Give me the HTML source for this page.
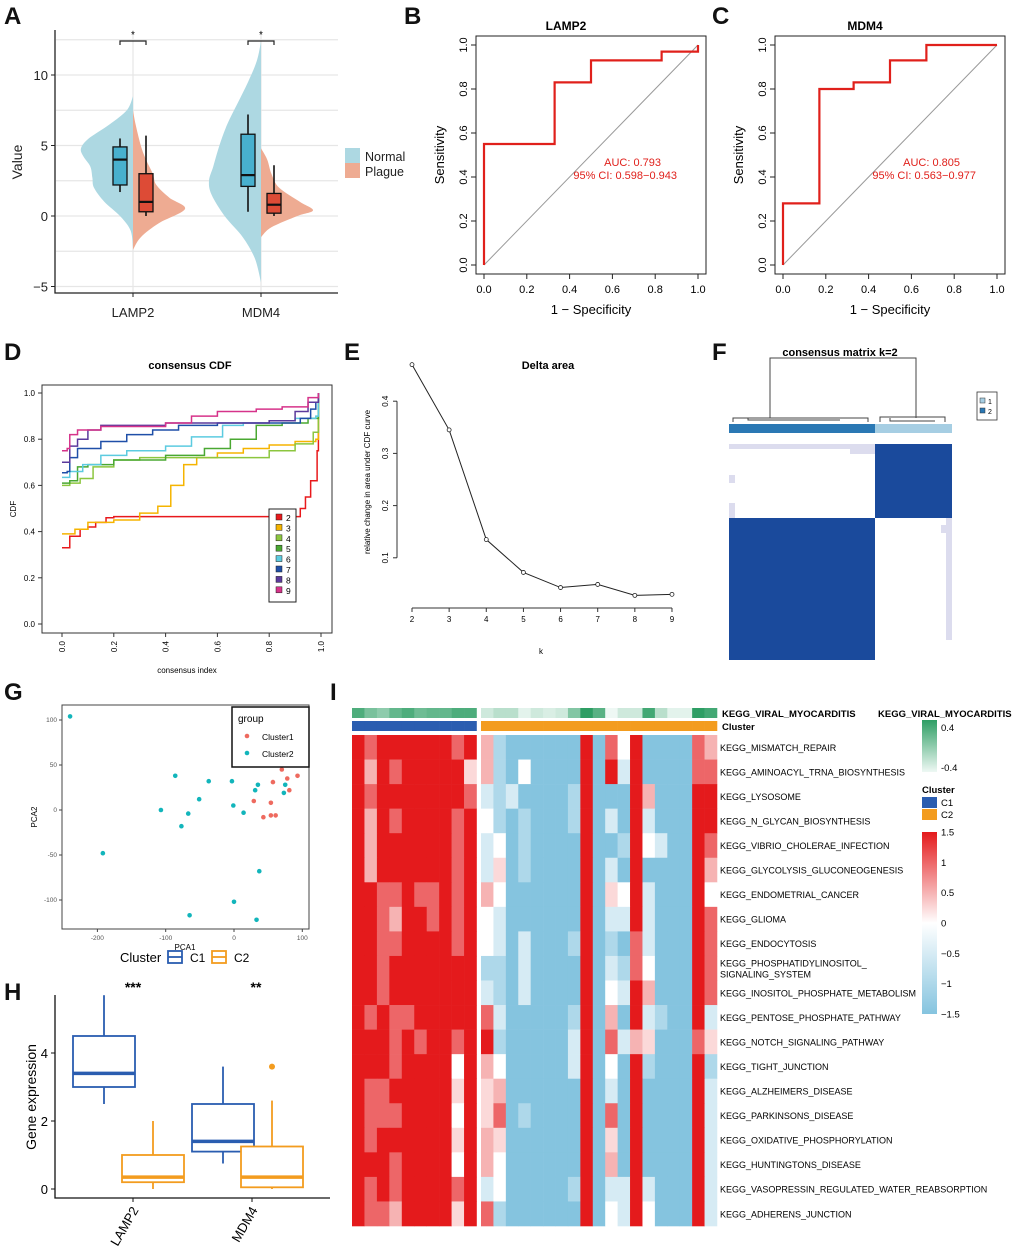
<!DOCTYPE html>
<html><head><meta charset="utf-8"><style>
body{margin:0;background:#fff}
svg text{font-family:"Liberation Sans",Arial,sans-serif}
</style></head><body>
<svg id="fig" width="1020" height="1246" viewBox="0 0 1020 1246" xmlns="http://www.w3.org/2000/svg">
<rect width="1020" height="1246" fill="#fff"/>
<g font-weight="bold" font-size="24" fill="#111">
<text x="4" y="24">A</text>
<text x="404" y="24">B</text>
<text x="712" y="24">C</text>
<text x="4" y="360">D</text>
<text x="344" y="360">E</text>
<text x="712" y="360">F</text>
<text x="4" y="700">G</text>
<text x="330" y="700">I</text>
<text x="4" y="1000">H</text>
</g>
<g id="gA"></g>
<g id="gB"></g>
<g id="gC"></g>
<g id="gD"></g>
<g id="gE"></g>
<g id="gF"></g>
<g id="gG"></g>
<g id="gH"></g>
<g id="gI"></g>
</svg>
<script>
// ---------- DATA ----------
const violinGenes = ['LAMP2','MDM4'];
const violinNormal = [
 [[-2.2,0],[-1,0.05],[0,0.25],[1,0.55],[2,0.75],[2.7,0.78],[3.5,0.82],[4.2,0.95],[4.8,1.0],[5.5,0.85],[6.5,0.45],[7.5,0.12],[8.5,0]],
 [[-4.7,0],[-3,0.12],[-1.5,0.35],[0,0.7],[1.5,0.95],[2.5,1.0],[3.5,0.92],[5,0.8],[6.5,0.65],[8,0.45],[9.5,0.25],[11,0.08],[12.4,0]]];
const violinPlague = [
 [[-2.4,0],[-1.5,0.15],[-0.5,0.5],[0.5,1.0],[1.3,0.7],[2.2,0.45],[3,0.38],[4,0.25],[5,0.15],[6.5,0.05],[7.5,0]],
 [[-1.5,0],[-0.8,0.2],[0,0.7],[0.4,1],[1,0.75],[2,0.35],[3,0.2],[4,0.12],[4.8,0]]];
const boxNormal = [[1.7,2.2,4.0,4.9,5.5],[0.3,2.1,2.9,5.8,7.2]];
const boxPlague = [[0,0.3,1.0,3.0,5.7],[0,0.2,0.8,1.6,3.6]];
const yTicksA = [-5,0,5,10];

const rocLamp2 = [[0,0],[0,0.55],[0.33,0.55],[0.33,0.83],[0.5,0.83],[0.5,0.93],[0.83,0.93],[0.83,0.97],[1,0.97],[1,1]];
const rocMdm4 = [[0,0],[0,0.28],[0.17,0.28],[0.17,0.8],[0.33,0.8],[0.33,0.83],[0.5,0.83],[0.5,0.93],[0.67,0.93],[0.67,1],[1,1]];
const rocTicks = [0,0.2,0.4,0.6,0.8,1.0];

const cdfK = [2,3,4,5,6,7,8,9];
const cdfColors = ['#e8191c','#f5b400','#8cc63f','#4aa832','#5ccbe0','#1f4fa8','#5b3a9c','#d6338a'];
const cdfCurves = [
 [[0,0.33],[0.02,0.33],[0.03,0.38],[0.05,0.38],[0.07,0.41],[0.1,0.42],[0.13,0.44],[0.17,0.46],[0.2,0.465],[0.9,0.465],[0.92,0.5],[0.94,0.55],[0.96,0.62],[0.98,0.62],[0.985,0.75],[0.99,1.0]],
 [[0,0.39],[0.05,0.41],[0.1,0.44],[0.2,0.45],[0.3,0.48],[0.37,0.51],[0.42,0.6],[0.47,0.69],[0.52,0.72],[0.6,0.74],[0.7,0.76],[0.8,0.775],[0.9,0.79],[0.98,0.8],[0.99,1.0]],
 [[0,0.6],[0.03,0.61],[0.07,0.63],[0.12,0.68],[0.2,0.71],[0.3,0.72],[0.7,0.72],[0.8,0.75],[0.9,0.78],[0.97,0.83],[0.99,1.0]],
 [[0,0.61],[0.03,0.62],[0.06,0.68],[0.1,0.69],[0.2,0.71],[0.4,0.73],[0.55,0.76],[0.65,0.8],[0.75,0.86],[0.85,0.87],[0.95,0.89],[0.99,1.0]],
 [[0,0.635],[0.03,0.66],[0.08,0.69],[0.15,0.73],[0.25,0.75],[0.4,0.77],[0.5,0.81],[0.62,0.86],[0.7,0.87],[0.8,0.88],[0.9,0.89],[0.98,0.9],[0.99,1.0]],
 [[0,0.655],[0.02,0.66],[0.03,0.72],[0.06,0.76],[0.15,0.79],[0.25,0.82],[0.35,0.84],[0.45,0.86],[0.6,0.87],[0.85,0.87],[0.92,0.89],[0.96,0.93],[0.98,0.96],[0.99,1.0]],
 [[0,0.70],[0.02,0.70],[0.03,0.77],[0.06,0.8],[0.1,0.84],[0.15,0.86],[0.4,0.87],[0.6,0.87],[0.8,0.88],[0.9,0.92],[0.95,0.96],[0.99,1.0]],
 [[0,0.75],[0.02,0.76],[0.03,0.82],[0.06,0.84],[0.15,0.855],[0.4,0.87],[0.5,0.9],[0.6,0.92],[0.75,0.93],[0.85,0.94],[0.95,0.98],[0.99,1.0]]];
const cdfTicks = [0,0.2,0.4,0.6,0.8,1.0];

const deltaK = [2,3,4,5,6,7,8,9];
const deltaVal = [0.47,0.345,0.135,0.072,0.043,0.049,0.028,0.03];
const deltaYTicks = [0.1,0.2,0.3,0.4];

const pcaC1x = [70,78,93,57,81,29,54,43,54,61];
const pcaC1y = [45,35,38,31,22,10,8,-8,-6,-6];
const pcaC2x = [-240,-192,-107,-86,-77,-67,-51,-37,-3,-1,14,31,35,37,0,-65,33,73,75];
const pcaC2y = [104,-48,0,38,-18,-4,12,32,32,5,-3,22,28,-68,-102,-117,-122,19,28];
const pcaXTicks = [-200,-100,0,100];
const pcaYTicks = [-100,-50,0,50,100];

const hGenes = ['LAMP2','MDM4'];
const hC1 = [[2.5,3.0,3.4,4.5,5.7],[0.75,1.1,1.4,2.5,3.6]];
const hC2 = [[0,0.2,0.35,1.0,2.0],[0,0.05,0.35,1.25,2.6]];
const hC2Outliers = [[],[3.6]];
const hYTicks = [0,2,4];

const heatRows = ['KEGG_MISMATCH_REPAIR','KEGG_AMINOACYL_TRNA_BIOSYNTHESIS','KEGG_LYSOSOME','KEGG_N_GLYCAN_BIOSYNTHESIS','KEGG_VIBRIO_CHOLERAE_INFECTION','KEGG_GLYCOLYSIS_GLUCONEOGENESIS','KEGG_ENDOMETRIAL_CANCER','KEGG_GLIOMA','KEGG_ENDOCYTOSIS','KEGG_PHOSPHATIDYLINOSITOL_|SIGNALING_SYSTEM','KEGG_INOSITOL_PHOSPHATE_METABOLISM','KEGG_PENTOSE_PHOSPHATE_PATHWAY','KEGG_NOTCH_SIGNALING_PATHWAY','KEGG_TIGHT_JUNCTION','KEGG_ALZHEIMERS_DISEASE','KEGG_PARKINSONS_DISEASE','KEGG_OXIDATIVE_PHOSPHORYLATION','KEGG_HUNTINGTONS_DISEASE','KEGG_VASOPRESSIN_REGULATED_WATER_REABSORPTION','KEGG_ADHERENS_JUNCTION'];
const heatCodes = [
'RrRRRRRRrR'+'pmBBBBBBRBrwRBBBBrp',
'RpRrRRRRRq'+'pmBwBBBBRBRlRBBBBrr',
'RrRRRRRRRr'+'lmlBBBBmRBBBRpBBBRR',
'RpRrRRRRrR'+'wmBmBBBmRBlBRlBBBRR',
'RpRRRRRRrR'+'lwBmBBBBRBBmRwlBBRr',
'RpRRRRRRrR'+'lqBmBBBBRBlBRBBBBRp',
'RRrrRrrRrR'+'pwBBBBBBRBqwRlBBBRw',
'RRrpRRrRrR'+'wlBBBBBBRBllRlBBBRr',
'RRrrRRRRrR'+'wlBlBBBmRBmBrlBBBRr',
'RRrRRRRRRR'+'mmBlBBBBRBlmrwBBBRr',
'RRrRRRRRRR'+'lmBlBBBBRBwlRpBBBRr',
'RrRrrRRRRR'+'rlBBBBBmRBpBRlmBBRl',
'RRRrRrRRrR'+'RmBBBBBlRBrlpqBBBrq',
'RRRrRRRRwR'+'pwBBBBBlRBwBRmBBBRm',
'RrrRRRRRqR'+'qpBBBBBBRBlBRBBBBRl',
'RrrrRRRRwR'+'qrBmBBBBRBrBRBBBBRl',
'RrRRRRRRqR'+'pqBBBBBBRBqBRBBBBRl',
'RRRrRRRRwR'+'pwBBBBBBRBpBRBBBBRl',
'RrRrRRRRrR'+'lwBBBBBmRBllRlBBBRl',
'RrrpRRRRqR'+'rmBBBBBBRBwlRwBBBRl'];
const codeValue = {R:1.5,r:1.0,p:0.5,q:0.25,w:0,l:-0.5,m:-1.0,B:-1.5};
const viralAnno = [0.3,0.1,0.0,0.2,0.3,0.15,0.2,0.2,0.3,0.3,-0.3,-0.2,-0.2,-0.4,-0.3,-0.35,-0.3,0.05,0.45,0.25,-0.45,-0.3,-0.3,0.35,-0.2,-0.4,-0.4,0.45,0.35];
const clusterAnno = ['C1','C1','C1','C1','C1','C1','C1','C1','C1','C1','C2','C2','C2','C2','C2','C2','C2','C2','C2','C2','C2','C2','C2','C2','C2','C2','C2','C2','C2'];
const heatLegendTicks = [1.5,1,0.5,0,-0.5,-1,-1.5];

// ---------- HELPERS ----------
const NS='http://www.w3.org/2000/svg';
function el(tag,attrs,parent,txt){const e=document.createElementNS(NS,tag);for(const k in attrs)e.setAttribute(k,attrs[k]);if(txt!==undefined)e.textContent=txt;parent.appendChild(e);return e;}
const $=id=>document.getElementById(id);
function mix(a,b,t){const pa=[1,3,5].map(i=>parseInt(a.substr(i,2),16)),pb=[1,3,5].map(i=>parseInt(b.substr(i,2),16));return 'rgb('+pa.map((v,i)=>Math.round(v+(pb[i]-v)*t)).join(',')+')';}
function smoothPath(P){let d='M'+P[0][0].toFixed(1)+','+P[0][1].toFixed(1);for(let i=0;i<P.length-1;i++){const p0=P[Math.max(0,i-1)],p1=P[i],p2=P[i+1],p3=P[Math.min(P.length-1,i+2)];const c1=[p1[0]+(p2[0]-p0[0])/6,p1[1]+(p2[1]-p0[1])/6],c2=[p2[0]-(p3[0]-p1[0])/6,p2[1]-(p3[1]-p1[1])/6];d+=` C${c1[0].toFixed(1)},${c1[1].toFixed(1)} ${c2[0].toFixed(1)},${c2[1].toFixed(1)} ${p2[0].toFixed(1)},${p2[1].toFixed(1)}`;}return d;}

// ---------- PANEL A ----------
(function(){
const g=$('gA');
const yA=v=>216-14.1*v;
const xA=i=>133+i*128;
[12.5,10,7.5,5,2.5,0,-2.5,-5].forEach(v=>{const l=el('line',{x1:56,x2:338,y1:yA(v),y2:yA(v),stroke:'#e6e6e6','stroke-width':1.2},g);});
violinGenes.forEach((gn,i)=>{const l=el('line',{x1:xA(i),x2:xA(i),y1:30,y2:293,stroke:'#e6e6e6','stroke-width':1.2},g);});
function violin(pts,cx,dir,fill){const P=pts.map(p=>[cx+dir*52*p[1],yA(p[0])]);return el('path',{d:smoothPath(P)+' Z',fill:fill,stroke:'none'},g);}
violinGenes.forEach((gn,i)=>{
 const v1=violin(violinNormal[i],xA(i),-1,'#add8e2');
 const v2=violin(violinPlague[i],xA(i),1,'#eeab92');
});
function box(s,cx,fill,name){
 const w=el('line',{x1:cx,x2:cx,y1:yA(s[0]),y2:yA(s[4]),stroke:'#111','stroke-width':1.6},g);
 const r=el('rect',{x:cx-7,y:yA(s[3]),width:14,height:yA(s[1])-yA(s[3]),fill:fill,stroke:'#111','stroke-width':1.3},g);
 const m=el('line',{x1:cx-7,x2:cx+7,y1:yA(s[2]),y2:yA(s[2]),stroke:'#111','stroke-width':2.2},g);
}
violinGenes.forEach((gn,i)=>{box(boxNormal[i],xA(i)-13,'#48b0ce','box-normal-'+gn.toLowerCase());box(boxPlague[i],xA(i)+13,'#dd4b36','box-plague-'+gn.toLowerCase());
 const b=el('path',{d:`M${xA(i)-13},45 V41 H${xA(i)+13} V45`,fill:'none',stroke:'#222','stroke-width':1.2},g);
 const s=el('text',{x:xA(i),y:38,'font-size':10,'text-anchor':'middle'},g,'*');
 const t=el('text',{x:xA(i),y:317,'font-size':13,'text-anchor':'middle',fill:'#222'},g,gn);
 el('line',{x1:xA(i),x2:xA(i),y1:293,y2:297,stroke:'#222'},g);
});
el('path',{d:'M55,30 V293 H338',fill:'none',stroke:'#222','stroke-width':1.3},g);
yTicksA.forEach(v=>{el('line',{x1:51,x2:55,y1:yA(v),y2:yA(v),stroke:'#222'},g);const t=el('text',{x:48,y:yA(v)+5,'font-size':13,'text-anchor':'end',fill:'#222'},g,v<0?'−'+(-v):v);});
const yl=el('text',{x:22,y:162,'font-size':14,'text-anchor':'middle',transform:'rotate(-90 22 162)',fill:'#222'},g,'Value');
const l1=el('rect',{x:345,y:148,width:15,height:15,fill:'#add8e2'},g);
const l2=el('rect',{x:345,y:163,width:15,height:15,fill:'#eeab92'},g);
const t1=el('text',{x:365,y:161,'font-size':12.5,fill:'#222'},g,'Normal');
const t2=el('text',{x:365,y:176,'font-size':12.5,fill:'#222'},g,'Plague');
})();

// ---------- PANELS B,C ----------
function rocPanel(g,x0,pts,title,auc,ci){
 const xs=v=>x0+214*v, ys=v=>265-220*v;
 el('rect',{x:x0-8,y:36,width:230,height:238,fill:'none',stroke:'#222','stroke-width':1},g);
 const tt=el('text',{x:x0+82,y:30,'font-size':12,'font-weight':'bold','text-anchor':'middle'},g,title);
 const dg=el('line',{x1:xs(0),y1:ys(0),x2:xs(1),y2:ys(1),stroke:'#999','stroke-width':1},g);
 const c=el('polyline',{points:pts.map(p=>xs(p[0])+','+ys(p[1])).join(' '),fill:'none',stroke:'#e0201b','stroke-width':2.2},g);
 rocTicks.forEach(v=>{el('line',{x1:xs(v),x2:xs(v),y1:274,y2:279,stroke:'#222'},g);const t=el('text',{x:xs(v),y:293,'font-size':11,'text-anchor':'middle'},g,v.toFixed(1));
  el('line',{x1:x0-8,x2:x0-13,y1:ys(v),y2:ys(v),stroke:'#222'},g);const u=el('text',{x:x0-17,y:ys(v),'font-size':11,'text-anchor':'middle',transform:`rotate(-90 ${x0-17} ${ys(v)})`},g,v.toFixed(1));});
 const xl=el('text',{x:x0+107,y:314,'font-size':13,'text-anchor':'middle'},g,'1 − Specificity');
 const yl=el('text',{x:x0-40,y:155,'font-size':13,'text-anchor':'middle',transform:`rotate(-90 ${x0-40} 155)`},g,'Sensitivity');
 const a=el('text',{x:x0+177,y:166,'font-size':11,'text-anchor':'end',fill:'#e0201b'},g,auc);
 const b=el('text',{x:x0+193,y:179,'font-size':11,'text-anchor':'end',fill:'#e0201b'},g,ci);
}
rocPanel($('gB'),484,rocLamp2,'LAMP2','AUC: 0.793','95% CI: 0.598−0.943');
rocPanel($('gC'),783,rocMdm4,'MDM4','AUC: 0.805','95% CI: 0.563−0.977');

// ---------- PANEL D ----------
(function(){
const g=$('gD');const xs=v=>62+259*v, ys=v=>624-231*v;
el('rect',{x:42,y:385,width:290,height:248,fill:'none',stroke:'#333','stroke-width':1},g);
const tt=el('text',{x:190,y:369,'font-size':11,'font-weight':'bold','text-anchor':'middle'},g,'consensus CDF');
cdfCurves.forEach((c,i)=>{let pts=[];c.forEach((p,j)=>{if(j>0)pts.push(xs(p[0])+','+ys(c[j-1][1]));pts.push(xs(p[0])+','+ys(p[1]));});
 const pl=el('polyline',{points:pts.join(' '),fill:'none',stroke:cdfColors[i],'stroke-width':1.5},g);});
cdfTicks.forEach(v=>{el('line',{x1:42,x2:38,y1:ys(v),y2:ys(v),stroke:'#333'},g);const t=el('text',{x:35,y:ys(v)+3,'font-size':8,'text-anchor':'end'},g,v.toFixed(1));
 el('line',{x1:xs(v),x2:xs(v),y1:633,y2:637,stroke:'#333'},g);const u=el('text',{x:xs(v)+3,y:641,'font-size':8,'text-anchor':'end',transform:`rotate(-90 ${xs(v)+3} 641)`},g,v.toFixed(1));});
const xl=el('text',{x:187,y:673,'font-size':8,'text-anchor':'middle'},g,'consensus index');
const yl=el('text',{x:16,y:509,'font-size':8,'text-anchor':'middle',transform:'rotate(-90 16 509)'},g,'CDF');
const lb=el('rect',{x:269,y:509,width:27,height:93,fill:'#fff',stroke:'#222','stroke-width':1},g);
cdfK.forEach((k,i)=>{const r=el('rect',{x:276,y:514+i*10.4,width:6,height:6,fill:cdfColors[i],stroke:'#222','stroke-width':0.5},g);
 const t=el('text',{x:286,y:521+i*10.4,'font-size':8.5},g,k);});
})();

// ---------- PANEL E ----------
(function(){
const g=$('gE');const xs=k=>412+(k-2)*37.14, ys=v=>610-522*v;
const tt=el('text',{x:548,y:369,'font-size':11,'font-weight':'bold','text-anchor':'middle'},g,'Delta area');
el('line',{x1:397,x2:397,y1:ys(0.1),y2:ys(0.4),stroke:'#333'},g);
el('line',{x1:xs(2),x2:xs(9),y1:608,y2:608,stroke:'#333'},g);
const pl=el('polyline',{points:deltaK.map((k,i)=>xs(k)+','+ys(deltaVal[i])).join(' '),fill:'none',stroke:'#222','stroke-width':1},g);
deltaK.forEach((k,i)=>{const c=el('circle',{cx:xs(k),cy:ys(deltaVal[i]),r:2,fill:'#fff',stroke:'#222','stroke-width':0.8},g);
 el('line',{x1:xs(k),x2:xs(k),y1:608,y2:612,stroke:'#333'},g);const t=el('text',{x:xs(k),y:622,'font-size':8,'text-anchor':'middle'},g,k);});
deltaYTicks.forEach(v=>{el('line',{x1:397,x2:393,y1:ys(v),y2:ys(v),stroke:'#333'},g);const t=el('text',{x:388,y:ys(v),'font-size':8,'text-anchor':'middle',transform:`rotate(-90 388 ${ys(v)})`},g,v.toFixed(1));});
const xl=el('text',{x:541,y:654,'font-size':8,'text-anchor':'middle'},g,'k');
const yl=el('text',{x:370,y:482,'font-size':8,'text-anchor':'middle',transform:'rotate(-90 370 482)'},g,'relative change in area under CDF curve');
})();

// ---------- PANEL F ----------
(function(){
const g=$('gF');
const tt=el('text',{x:840,y:356,'font-size':11,'font-weight':'bold','text-anchor':'middle'},g,'consensus matrix k=2');
const dd=el('path',{d:'M770,418 V358 H916 V418 M733,422 V418 H868 V422 M880,422 V417 H945 V422 M748,418 V420 H840 M890,418 V421 H935',fill:'none',stroke:'#444','stroke-width':1},g);
const b1=el('rect',{x:729,y:424,width:146,height:9,fill:'#2a78b4'},g);
const b2=el('rect',{x:875,y:424,width:77,height:9,fill:'#a6cee3'},g);
[[729,444,146,5],[850,444,25,10],[729,475,6,8],[729,503,6,15],[946,460,6,60],[946,520,6,120],[941,525,11,8],[729,650,146,5]].forEach(r=>{const e=el('rect',{x:r[0],y:r[1],width:r[2],height:r[3],fill:'#dcdcee'},g);});
const m1=el('rect',{x:875,y:444,width:77,height:74,fill:'#1a4a9c'},g);
const m2=el('rect',{x:729,y:518,width:146,height:142,fill:'#1a4a9c'},g);
const lb=el('rect',{x:977,y:392,width:20,height:28,fill:'#fff',stroke:'#333','stroke-width':0.8},g);
el('rect',{x:980,y:398,width:5,height:5,fill:'#a6cee3',stroke:'#333','stroke-width':0.5},g);el('rect',{x:980,y:408,width:5,height:5,fill:'#2a78b4',stroke:'#333','stroke-width':0.5},g);
const a=el('text',{x:988,y:404,'font-size':7},g,'1');
const b=el('text',{x:988,y:414,'font-size':7},g,'2');
})();

// ---------- PANEL G ----------
(function(){
const g=$('gG');const xs=v=>234+0.683*v, ys=v=>810-0.9*v;
el('rect',{x:62,y:705,width:247,height:224,fill:'none',stroke:'#444','stroke-width':1},g);
pcaXTicks.forEach(v=>{el('line',{x1:xs(v),x2:xs(v),y1:929,y2:932,stroke:'#444'},g);const t=el('text',{x:xs(v),y:940,'font-size':6.5,'text-anchor':'middle',fill:'#555'},g,v);});
pcaYTicks.forEach(v=>{el('line',{x1:62,x2:59,y1:ys(v),y2:ys(v),stroke:'#444'},g);const t=el('text',{x:57,y:ys(v)+2,'font-size':6.5,'text-anchor':'end',fill:'#555'},g,v);});
pcaC2x.forEach((x,i)=>{const c=el('circle',{cx:xs(x),cy:ys(pcaC2y[i]),r:2.3,fill:'#12b5bb'},g);});
pcaC1x.forEach((x,i)=>{const c=el('circle',{cx:xs(x),cy:ys(pcaC1y[i]),r:2.3,fill:'#ee6a5f'},g);});
const lb=el('rect',{x:232,y:707,width:77,height:60,fill:'#fff',stroke:'#111','stroke-width':1.5},g);
const lt=el('text',{x:238,y:722,'font-size':10},g,'group');
el('circle',{cx:247,cy:736,r:2.3,fill:'#ee6a5f'},g);el('circle',{cx:247,cy:753,r:2.3,fill:'#12b5bb'},g);
const a=el('text',{x:262,y:740,'font-size':8.5},g,'Cluster1');
const b=el('text',{x:262,y:757,'font-size':8.5},g,'Cluster2');
const xl=el('text',{x:185,y:950,'font-size':8,'text-anchor':'middle'},g,'PCA1');
const yl=el('text',{x:37,y:817,'font-size':8,'text-anchor':'middle',transform:'rotate(-90 37 817)'},g,'PCA2');
})();

// ---------- PANEL H ----------
(function(){
const g=$('gH');const ys=v=>1189-34*v;const cx=[133,252];
el('path',{d:'M55,995 V1198 H330',fill:'none',stroke:'#111','stroke-width':1.3},g);
hYTicks.forEach(v=>{el('line',{x1:51,x2:55,y1:ys(v),y2:ys(v),stroke:'#111'},g);const t=el('text',{x:48,y:ys(v)+5,'font-size':13,'text-anchor':'end'},g,v);});
function hb(s,x,col,name){const w1=el('line',{x1:x,x2:x,y1:ys(s[0]),y2:ys(s[4]),stroke:col,'stroke-width':1.8},g);
 const r=el('rect',{x:x-31,y:ys(s[3]),width:62,height:ys(s[1])-ys(s[3]),fill:'#fff',stroke:col,'stroke-width':1.8},g);
 const m=el('line',{x1:x-31,x2:x+31,y1:ys(s[2]),y2:ys(s[2]),stroke:col,'stroke-width':3.5},g);}
hGenes.forEach((gn,i)=>{hb(hC1[i],cx[i]-29,'#2a5db0','box-c1-'+gn.toLowerCase());hb(hC2[i],cx[i]+20,'#f39c1f','box-c2-'+gn.toLowerCase());
 hC2Outliers[i].forEach(o=>{const c=el('circle',{cx:cx[i]+20,cy:ys(o),r:3,fill:'#f39c1f'},g);});
 el('line',{x1:cx[i],x2:cx[i],y1:1198,y2:1202,stroke:'#111'},g);
 const t=el('text',{x:cx[i]+6,y:1210,'font-size':13,'text-anchor':'end',transform:`rotate(-60 ${cx[i]+6} 1210)`},g,gn);});
const s1=el('text',{x:133,y:992,'font-size':14,'text-anchor':'middle','font-weight':'bold'},g,'***');
const s2=el('text',{x:256,y:992,'font-size':14,'text-anchor':'middle','font-weight':'bold'},g,'**');
const yl=el('text',{x:36,y:1097,'font-size':14,'text-anchor':'middle',transform:'rotate(-90 36 1097)'},g,'Gene expression');
const lt=el('text',{x:120,y:962,'font-size':13},g,'Cluster');
[['C1','#2a5db0',168],['C2','#f39c1f',212]].forEach(L=>{const k=el('g',{},g);
 el('rect',{x:L[2],y:951,width:14,height:12,fill:'#fff',stroke:L[1],'stroke-width':1.8},k);el('line',{x1:L[2],x2:L[2]+14,y1:957,y2:957,stroke:L[1],'stroke-width':1.8},k);
 const t=el('text',{x:L[2]+22,y:962,'font-size':12},g,L[0]);});
})();

// ---------- PANEL I ----------
(function(){
const g=$('gI');
const colX=j=>j<10?352+j*12.45:481+(j-10)*12.42;
const cw=j=>j<10?12.45:12.42;
const rowY=r=>735+r*24.55;
function heatColor(v){if(v>=0)return mix('#ffffff','#e41a1c',Math.min(1,v/1.5));return mix('#ffffff','#85c4df',Math.min(1,-v/1.5));}
function greenColor(v){return mix('#eef8f4','#2e9e64',(v+0.45)/0.9);}
viralAnno.forEach((v,j)=>{const r=el('rect',{x:colX(j),y:708,width:cw(j)+0.3,height:10,fill:greenColor(v)},g);});
clusterAnno.forEach((c,j)=>{const r=el('rect',{x:colX(j),y:721,width:cw(j)+0.3,height:10,fill:c==='C1'?'#2a5db0':'#f39c1f'},g);});
heatCodes.forEach((row,r)=>{for(let j=0;j<row.length;j++){const c=el('rect',{x:colX(j),y:rowY(r),width:cw(j)+0.3,height:24.85,fill:heatColor(codeValue[row[j]])},g);}});
heatRows.forEach((n,r)=>{const parts=n.split('|');const y=rowY(r)+12.3;
 if(parts.length===1){const t=el('text',{x:720,y:y+3.5,'font-size':9},g,n);}
 else{const t=el('text',{x:720,y:y-2,'font-size':9},g,parts[0]);const t2=el('text',{x:720,y:y+9,'font-size':9},g,parts[1]);}});
const a1=el('text',{x:722,y:717,'font-size':9.5,'font-weight':'bold'},g,'KEGG_VIRAL_MYOCARDITIS');
const a2=el('text',{x:722,y:730,'font-size':9.5,'font-weight':'bold'},g,'Cluster');
const lt1=el('text',{x:878,y:717,'font-size':9.5,'font-weight':'bold'},g,'KEGG_VIRAL_MYOCARDITIS');
const defs=el('defs',{},g);
const lg1=el('linearGradient',{id:'gGreen',x1:0,y1:0,x2:0,y2:1},defs);el('stop',{offset:0,'stop-color':'#2e9e64'},lg1);el('stop',{offset:1,'stop-color':'#eef8f4'},lg1);
const lg2=el('linearGradient',{id:'gHeat',x1:0,y1:0,x2:0,y2:1},defs);el('stop',{offset:0,'stop-color':'#e41a1c'},lg2);el('stop',{offset:0.5,'stop-color':'#ffffff'},lg2);el('stop',{offset:1,'stop-color':'#85c4df'},lg2);
const gb=el('rect',{x:922,y:720,width:15,height:52,fill:'url(#gGreen)'},g);
[['0.4',731],['-0.4',771]].forEach(p=>{const t=el('text',{x:941,y:p[1],'font-size':9.5},g,p[0]);});
const lt2=el('text',{x:922,y:793,'font-size':9.5,'font-weight':'bold'},g,'Cluster');
const c1=el('rect',{x:922,y:797,width:15,height:11,fill:'#2a5db0'},g);
const c2=el('rect',{x:922,y:809,width:15,height:11,fill:'#f39c1f'},g);
const tc1=el('text',{x:941,y:806,'font-size':9.5},g,'C1');
const tc2=el('text',{x:941,y:818,'font-size':9.5},g,'C2');
const hb=el('rect',{x:922,y:832,width:15,height:182,fill:'url(#gHeat)'},g);
heatLegendTicks.forEach(v=>{const yy=832+(1.5-v)/3*182;const t=el('text',{x:941,y:yy+3.5,'font-size':9.5},g,v>=0?String(v):'−'+(-v));});
})();
</script>
</body></html>
